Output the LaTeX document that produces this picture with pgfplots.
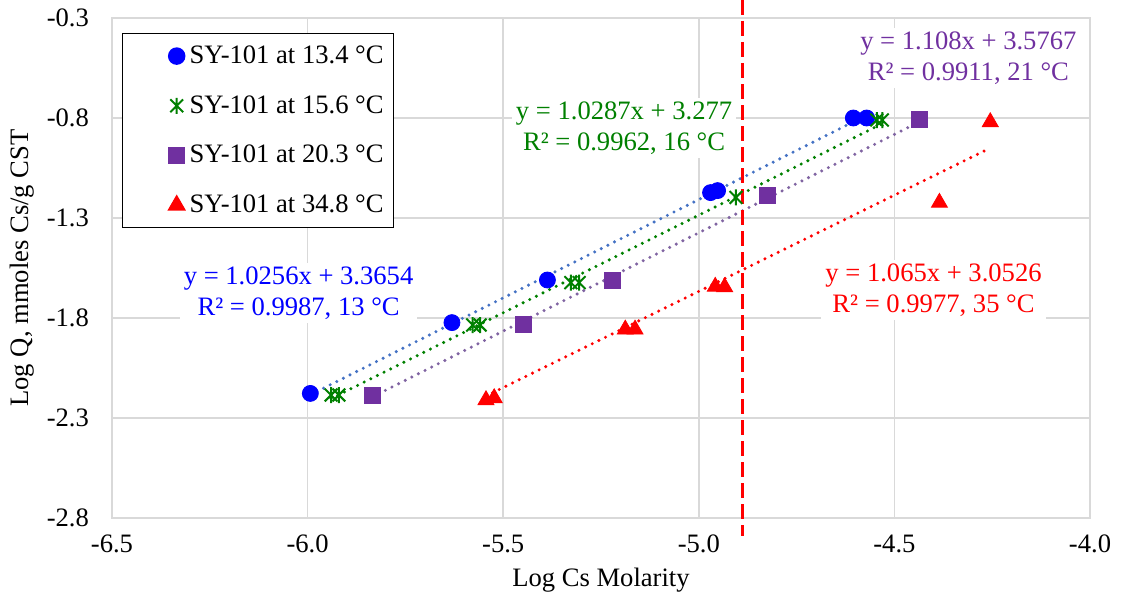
\documentclass[border=0pt]{standalone}
\usepackage{fontspec}
\setmainfont{Liberation Serif}
\usepackage{pgfplots}
\pgfplotsset{compat=1.18}
\definecolor{cblue}{RGB}{0,0,255}
\definecolor{tblue}{RGB}{68,114,196}
\definecolor{cgreen}{RGB}{0,128,0}
\definecolor{cpurple}{RGB}{112,48,160}
\definecolor{tpurple}{RGB}{128,100,162}
\definecolor{cred}{RGB}{255,0,0}
\definecolor{gridgray}{RGB}{217,217,217}
\newcommand{\fs}{\fontsize{13.3}{15.2}\selectfont}
\pgfdeclareplotmark{xstar}{%
  \pgfpathmoveto{\pgfqpoint{-0.8\pgfplotmarksize}{-0.8\pgfplotmarksize}}%
  \pgfpathlineto{\pgfqpoint{0.8\pgfplotmarksize}{0.8\pgfplotmarksize}}%
  \pgfpathmoveto{\pgfqpoint{-0.8\pgfplotmarksize}{0.8\pgfplotmarksize}}%
  \pgfpathlineto{\pgfqpoint{0.8\pgfplotmarksize}{-0.8\pgfplotmarksize}}%
  \pgfpathmoveto{\pgfqpoint{0pt}{-\pgfplotmarksize}}%
  \pgfpathlineto{\pgfqpoint{0pt}{\pgfplotmarksize}}%
  \pgfusepathqstroke}
\pgfplotsset{
  trend/.style={line width=1.7pt, line cap=round, dash pattern=on 0pt off 3.7pt, forget plot},
  mylegimg/.style={legend image code/.code={\path[draw=none,fill=none] (-24pt,-1pt) rectangle (4.5pt,1pt); \draw[##1] plot coordinates {(0pt,0pt)};}}
}
\begin{document}
\begin{tikzpicture}
\begin{axis}[
  scale only axis, width=489pt, height=250pt,
  xmin=-6.5, xmax=-4.0, ymin=-2.8, ymax=-0.3,
  xtick={-6.5,-6,-5.5,-5,-4.5,-4}, xticklabels={-6.5,-6.0,-5.5,-5.0,-4.5,-4.0},
  ytick={-2.8,-2.3,-1.8,-1.3,-0.8,-0.3}, yticklabels={-2.8,-2.3,-1.8,-1.3,-0.8,-0.3},
  grid=major, grid style={gridgray, line width=0.75pt},
  axis line style={gridgray, line width=0.75pt},
  major tick length=0pt,
  tick label style={font=\fs, text=black},
  xticklabel style={anchor=north, yshift=-5pt},
  yticklabel style={anchor=east, xshift=-8pt},
  xlabel={Log Cs Molarity}, ylabel={Log Q, mmoles Cs/g CST},
  label style={font=\fs},
  xlabel style={at={(rel axis cs:0.5,-0.124)}, anchor=center},
  ylabel style={at={(rel axis cs:-0.092,0.5)}, anchor=center},
  clip=false,
  legend style={at={(rel axis cs:0.0102,0.97)}, anchor=north west, draw=black, line width=0.75pt,
    fill=white, font=\fs, row sep=10.5pt, inner xsep=3pt, inner ysep=4pt},
  legend cell align=left,
]
\addplot[only marks, mark=*, mark size=4pt, color=cblue, mylegimg] coordinates {
 (-5.993,-2.177) (-5.631,-1.823) (-5.387,-1.61) (-4.970,-1.173) (-4.952,-1.163) (-4.605,-0.80) (-4.571,-0.80)};
\addlegendentry{SY-101 at 13.4 °C\hspace{11pt}}
\addplot[only marks, mark=xstar, mark size=4pt, line width=1pt, color=cgreen, mylegimg] coordinates {
 (-5.940,-2.185) (-5.920,-2.185) (-5.578,-1.835) (-5.559,-1.835) (-5.327,-1.623) (-5.306,-1.623) (-4.905,-1.197) (-4.545,-0.81) (-4.531,-0.81)};
\addlegendentry{SY-101 at 15.6 °C\hspace{11pt}}
\addplot[only marks, mark=square*, mark size=4pt, color=cpurple, mylegimg] coordinates {
 (-5.835,-2.185) (-5.449,-1.83) (-5.221,-1.613) (-4.824,-1.185) (-4.435,-0.807)};
\addlegendentry{SY-101 at 20.3 °C\hspace{11pt}}
\addplot[only marks, mark=triangle*, mark size=4.6pt, color=cred, mylegimg] coordinates {
 (-5.544,-2.21) (-5.523,-2.20) (-5.188,-1.857) (-5.163,-1.857) (-4.958,-1.643) (-4.934,-1.645) (-4.385,-1.223) (-4.255,-0.82)};
\addlegendentry{SY-101 at 34.8 °C\hspace{11pt}}
% trend lines
\addplot[trend, color=tblue] coordinates {(-5.993,-2.184) (-4.571,-0.786)};
\addplot[trend, color=cgreen] coordinates {(-5.940,-2.203) (-4.531,-0.828)};
\addplot[trend, color=tpurple] coordinates {(-5.835,-2.195) (-4.435,-0.818)};
\addplot[trend, color=cred] coordinates {(-5.544,-2.19) (-4.255,-0.95)};
% dashed vertical line
\addplot[cred, line width=1.35pt, dash pattern=on 7.5pt off 3pt, forget plot] coordinates {(-4.888,-0.21) (-4.888,-2.89)};
% equations
\node[fill=white, align=center, font=\fs, text=cgreen, inner sep=2pt] at (axis cs:-5.191,-0.85) {y = 1.0287x + 3.277\\R² = 0.9962, 16 °C};
\node[fill=white, align=center, font=\fs, text=cpurple, inner sep=2pt] at (axis cs:-4.311,-0.50) {y = 1.108x + 3.5767\\R² = 0.9911, 21 °C};
\node[fill=white, align=center, font=\fs, text=cblue, inner sep=2pt] at (axis cs:-6.023,-1.675) {y = 1.0256x + 3.3654\\R² = 0.9987, 13 °C};
\node[fill=white, align=center, font=\fs, text=cred, inner sep=2pt] at (axis cs:-4.400,-1.66) {y = 1.065x + 3.0526\\R² = 0.9977, 35 °C};
\coordinate (bbsw) at (rel axis cs:-0.1145,-0.164);
\coordinate (bbne) at (rel axis cs:1.0327,1.036);
\end{axis}
\pgfresetboundingbox
\path (bbsw) rectangle (bbne);
\end{tikzpicture}
\end{document}
